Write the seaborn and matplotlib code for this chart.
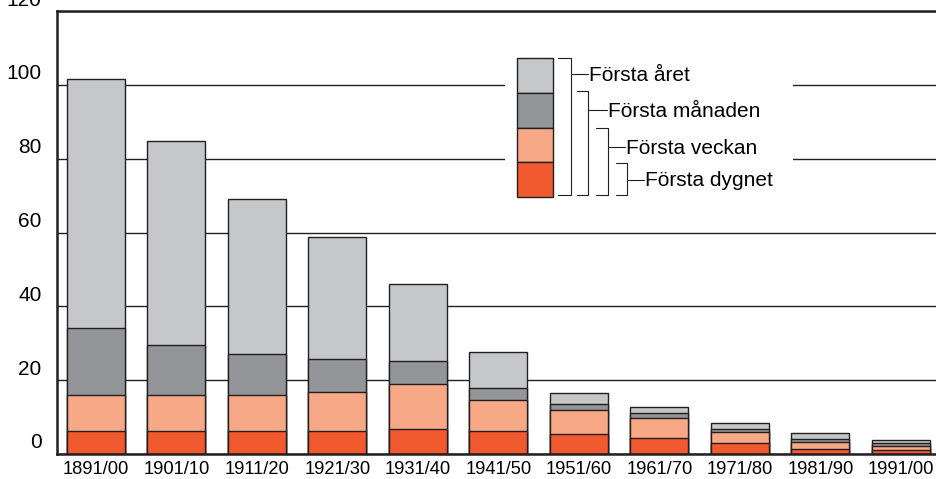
import matplotlib.pyplot as plt
import matplotlib.transforms as mtransforms
from matplotlib.patches import Rectangle
import seaborn as sns

# === Data (deaths per 1000 live births, cumulative by age) ===
periods = ["1891/00", "1901/10", "1911/20", "1921/30", "1931/40", "1941/50",
           "1951/60", "1961/70", "1971/80", "1981/90", "1991/00"]
forsta_dygnet = [6.1, 6.1, 6.3, 6.3, 6.7, 6.1, 5.3, 4.4, 2.9, 1.4, 1.1]
forsta_veckan = [15.9, 15.9, 15.9, 16.9, 19.0, 14.7, 12.0, 9.7, 5.9, 3.3, 2.3]
forsta_manaden = [34.0, 29.6, 27.2, 25.7, 25.1, 18.0, 13.6, 11.1, 6.7, 4.0, 2.9]
forsta_aret = [101.7, 84.7, 69.2, 58.8, 46.0, 27.6, 16.4, 12.6, 8.3, 5.8, 3.8]

series_labels = ["Första året", "Första månaden", "Första veckan", "Första dygnet"]
series_colors = ["#c6c7c9", "#939598", "#f7a886", "#f15a2e"]
y_ticks = [0, 20, 40, 60, 80, 100, 120]

dark = "#231f20"

# === Style ===
sns.set_theme(style="white")
plt.rcParams["font.family"] = ["Liberation Sans", "DejaVu Sans"]

fig = plt.figure(figsize=(9.36, 4.79), dpi=100)
ax = fig.add_axes([57 / 936, 1 - 454 / 479, 1 - 57 / 936, (454 - 11) / 479])

# === Bars: draw cumulative totals from tallest to shortest ===
for vals, color in zip([forsta_aret, forsta_manaden, forsta_veckan, forsta_dygnet], series_colors):
    sns.barplot(x=periods, y=vals, color=color, saturation=1, width=0.72,
                edgecolor=dark, linewidth=1.0, errorbar=None, ax=ax, zorder=2)

ax.set_xlim(-0.482, 10.437)
ax.set_ylim(0, 120)
ax.set_yticks(y_ticks)
ax.yaxis.grid(True, color=dark, linewidth=1.0)
ax.set_axisbelow(True)

ax.tick_params(axis="y", length=0, pad=11, labelsize=15, colors="black")
ax.tick_params(axis="x", length=0, pad=5, labelsize=13.2, colors="black")
# y labels sit a bit above their gridlines in the original
offset = mtransforms.ScaledTranslation(0, 13 / 100, fig.dpi_scale_trans)
for lab in ax.get_yticklabels():
    lab.set_transform(lab.get_transform() + offset)

for side in ["left", "top", "bottom"]:
    ax.spines[side].set_linewidth(1.8)
    ax.spines[side].set_color(dark)
ax.spines["right"].set_visible(False)
ax.set_xlabel("")
ax.set_ylabel("")

# === Legend with brackets (pixel coordinates overlay) ===
lax = fig.add_axes([0, 0, 1, 1], zorder=5)
lax.set_xlim(0, 936)
lax.set_ylim(479, 0)
lax.axis("off")
lax.add_patch(Rectangle((505, 40), 288, 160, facecolor="white", edgecolor="none"))

sw_top, sw_h = 58, 34.75
for i, color in enumerate(series_colors):
    lax.add_patch(Rectangle((517, sw_top + i * sw_h), 35.5, sw_h,
                            facecolor=color, edgecolor=dark, linewidth=1.0))

brackets = [(558, 571, 58, 74, 588), (577, 588, 91, 110, 607),
            (596, 608, 128, 147, 625), (616, 627, 163, 180, 644)]
bottom = 195
for (xl, xv, top, cy, xt), label in zip(brackets, series_labels):
    lax.plot([xl, xv, xv, xl], [top, top, bottom, bottom], color=dark, linewidth=0.8)
    lax.plot([xv, xt], [cy, cy], color=dark, linewidth=0.8)
    lax.text(xt + 1, cy + 1, label, ha="left", va="center", fontsize=15, color="black")

fig.savefig("out.png", dpi=100)
plt.close(fig)
